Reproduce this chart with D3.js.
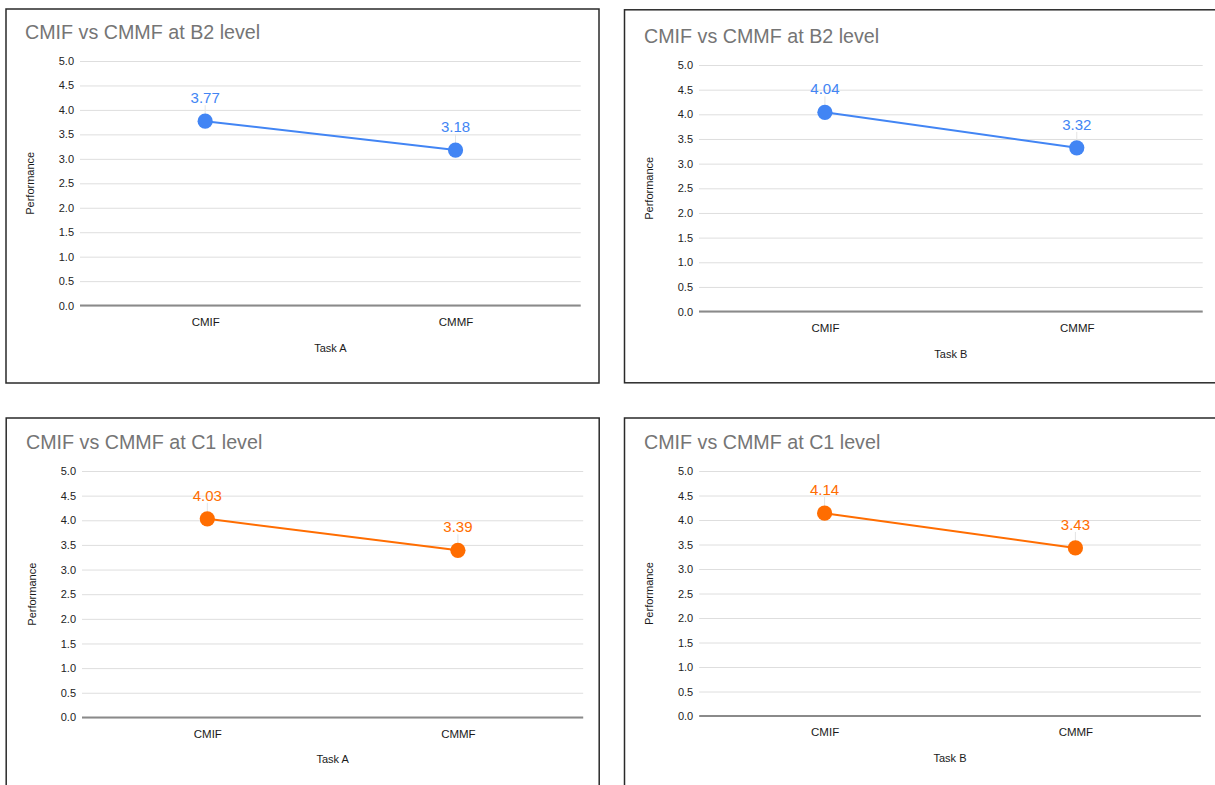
<!DOCTYPE html>
<html>
<head>
<meta charset="utf-8">
<script src="https://cdn.jsdelivr.net/npm/d3@7"></script>
<style>
  html, body { margin: 0; padding: 0; background: #ffffff; }
  svg { display: block; }
  text { font-family: "Liberation Sans", Arial, Helvetica, sans-serif; }
</style>
</head>
<body>
<svg id="chart" width="1215" height="785"></svg>
<script>
// ---- Data ----
const categories = ["CMIF", "CMMF"];
const yTickValues = [0, 0.5, 1, 1.5, 2, 2.5, 3, 3.5, 4, 4.5, 5];
const chartTitles = ["CMIF vs CMMF at B2 level", "CMIF vs CMMF at B2 level", "CMIF vs CMMF at C1 level", "CMIF vs CMMF at C1 level"];
const xAxisTitles = ["Task A", "Task B", "Task A", "Task B"];
const yAxisTitle = "Performance";
const valuesB2TaskA = [3.77, 3.18];
const valuesB2TaskB = [4.04, 3.32];
const valuesC1TaskA = [4.03, 3.39];
const valuesC1TaskB = [4.14, 3.43];
const seriesColors = ["#4285F4", "#4285F4", "#FF6D01", "#FF6D01"];

// ---- Layout (positions only) ----
const layouts = [
  { frame: [6, 9, 593, 374],   plot: [80, 580.7, 61, 305.6], title: [25, 39] },
  { frame: [624.5, 9.8, 620, 373], plot: [699, 1202.7, 65, 311.6], title: [644, 43] },
  { frame: [6.2, 418, 593, 400], plot: [82, 583.2, 471, 717.4], title: [26, 449] },
  { frame: [624.5, 418, 620, 400], plot: [699.2, 1200.8, 471, 716], title: [644, 449] }
];
const panelValues = [valuesB2TaskA, valuesB2TaskB, valuesC1TaskA, valuesC1TaskB];

const svg = d3.select("#chart");

panelValues.forEach((vals, i) => {
  const L = layouts[i];
  const color = seriesColors[i];
  const g = svg.append("g");
  const [left, right, top, bottom] = L.plot;

  // frame
  g.append("rect")
    .attr("x", L.frame[0]).attr("y", L.frame[1])
    .attr("width", L.frame[2]).attr("height", L.frame[3])
    .attr("fill", "#fff").attr("stroke", "#2a2a2a").attr("stroke-width", 1.5);

  // title
  g.append("text")
    .attr("x", L.title[0]).attr("y", L.title[1])
    .attr("fill", "#757575").attr("font-size", 19.7)
    .text(chartTitles[i]);

  const x = d3.scalePoint().domain(categories).range([left, right]).padding(0.5);
  const y = d3.scaleLinear().domain([0, 5]).range([bottom, top]);

  // gridlines + y tick labels via axis
  const yAxis = d3.axisLeft(y).tickValues(yTickValues)
    .tickSize(-(right - left)).tickPadding(6)
    .tickFormat(d3.format(".1f"));
  const ya = g.append("g").attr("transform", `translate(${left},0)`).call(yAxis);
  ya.select(".domain").remove();
  ya.selectAll(".tick line").attr("stroke", "#dedede").attr("stroke-width", 1);
  ya.selectAll(".tick text").attr("fill", "#222").attr("font-size", 11)
    .attr("font-family", "\"Liberation Sans\", Arial, sans-serif");

  // baseline (zero line)
  g.append("line")
    .attr("x1", left).attr("x2", right)
    .attr("y1", y(0)).attr("y2", y(0))
    .attr("stroke", "#8a8a8a").attr("stroke-width", 2);

  // x axis labels
  const xAxis = d3.axisBottom(x).tickSize(0).tickPadding(12);
  const xa = g.append("g").attr("transform", `translate(0,${bottom})`).call(xAxis);
  xa.select(".domain").remove();
  xa.selectAll(".tick text").attr("fill", "#1a1a1a").attr("font-size", 11.5)
    .attr("font-family", "\"Liberation Sans\", Arial, sans-serif");

  // x axis title
  g.append("text")
    .attr("x", (left + right) / 2).attr("y", bottom + 46)
    .attr("text-anchor", "middle").attr("fill", "#1a1a1a").attr("font-size", 11)
    .text(xAxisTitles[i]);

  // y axis title
  g.append("text")
    .attr("transform", `translate(${left - 46},${(top + bottom) / 2}) rotate(-90)`)
    .attr("text-anchor", "middle").attr("fill", "#1a1a1a").attr("font-size", 11)
    .text(yAxisTitle);

  // line
  const line = d3.line().x((d, j) => x(categories[j])).y(d => y(d));
  g.append("path").datum(vals)
    .attr("d", line).attr("fill", "none")
    .attr("stroke", color).attr("stroke-width", 2);

  // leader lines
  g.selectAll(".leader").data(vals).enter().append("line")
    .attr("x1", (d, j) => x(categories[j])).attr("x2", (d, j) => x(categories[j]))
    .attr("y1", d => y(d) - 16).attr("y2", d => y(d) - 7)
    .attr("stroke", "#e4e4e4").attr("stroke-width", 1);

  // points
  g.selectAll(".pt").data(vals).enter().append("circle")
    .attr("cx", (d, j) => x(categories[j])).attr("cy", d => y(d))
    .attr("r", 7.6).attr("fill", color);

  // value labels
  g.selectAll(".lbl").data(vals).enter().append("text")
    .attr("x", (d, j) => x(categories[j])).attr("y", d => y(d) - 18)
    .attr("text-anchor", "middle").attr("fill", color).attr("font-size", 15)
    .text(d => d.toFixed(2));
});
</script>
</body>
</html>
